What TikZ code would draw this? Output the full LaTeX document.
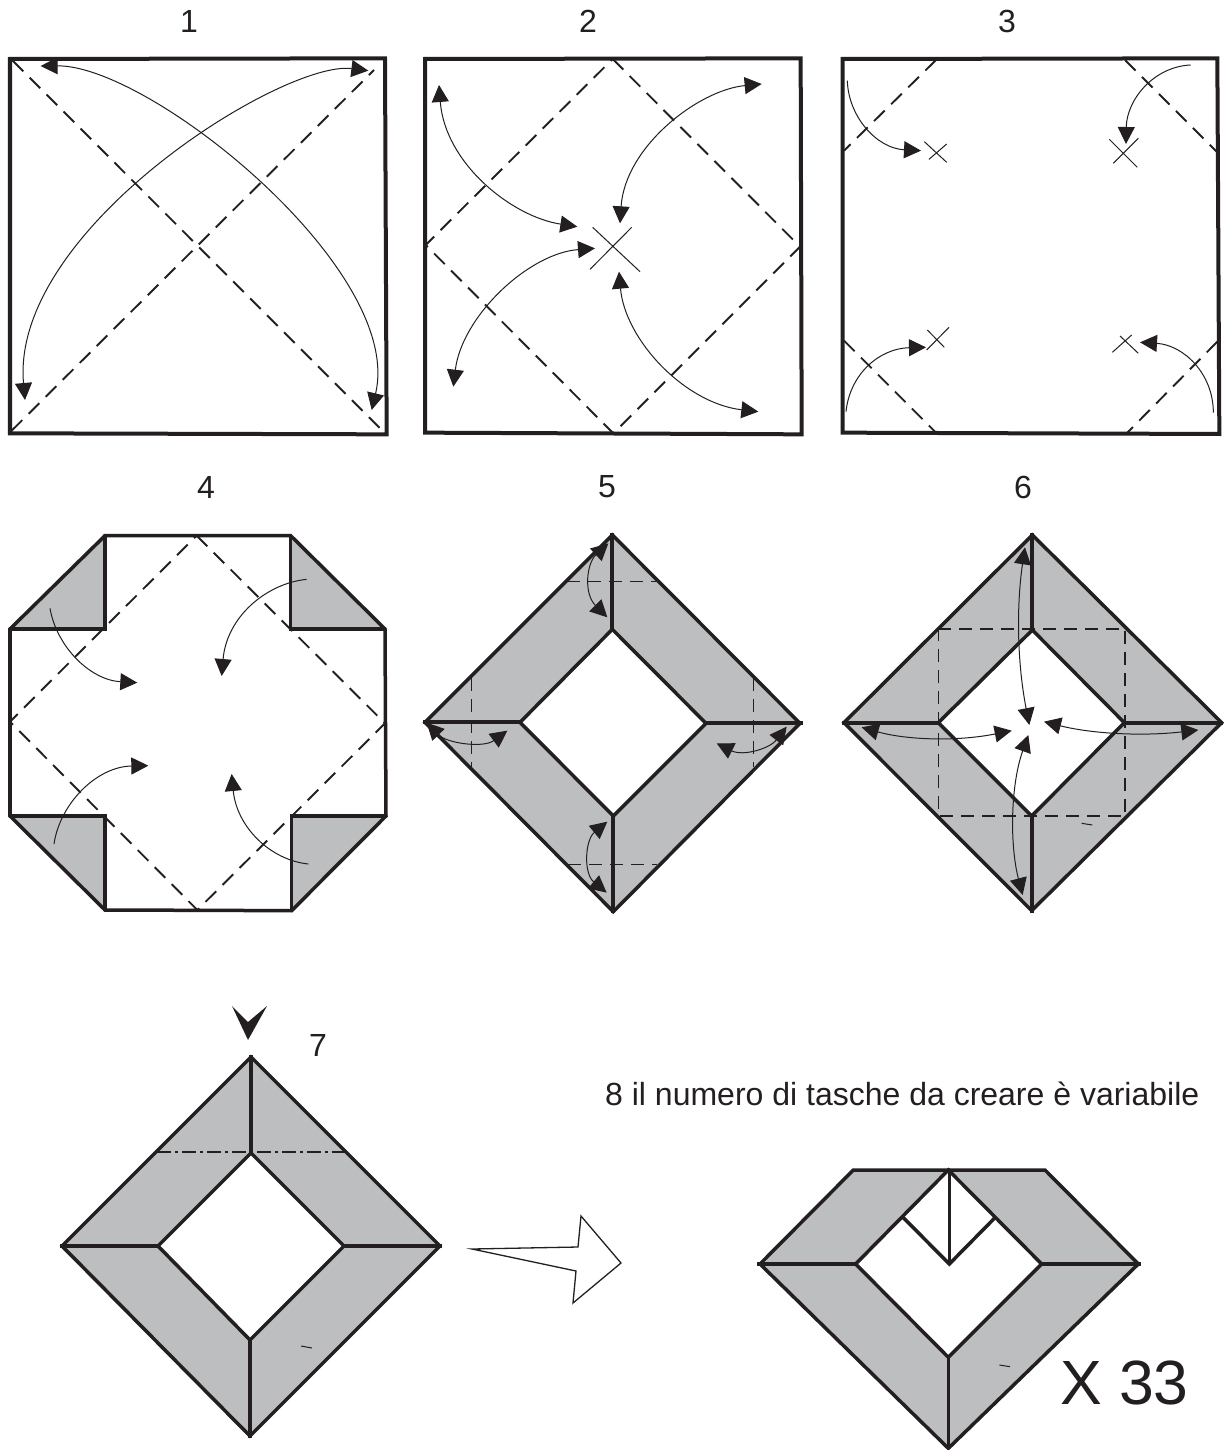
\documentclass[tikz,border=0pt]{standalone}
\usepackage{fontspec}
\setmainfont{Liberation Sans}
\usetikzlibrary{arrows.meta}
\definecolor{ink}{HTML}{231F20}
\definecolor{paper}{HTML}{BCBEC0}
\tikzset{
  x=1pt,y=-1pt,
  every path/.style={line join=miter},
  panel/.style={draw=ink,line width=4pt},
  crease/.style={draw=ink,line width=1.9pt,dash pattern=on 15pt off 9pt},
  creaseshort/.style={draw=ink,line width=1.6pt,dash pattern=on 13pt off 8pt},
  creasedot/.style={draw=ink,line width=1.5pt,dash pattern=on 14pt off 4pt on 3pt off 4pt},
  thinline/.style={draw=ink,line width=1pt},
  both/.style={draw=ink,line width=1pt,{Triangle[length=17pt,width=17pt,fill=ink]}-{Triangle[length=17pt,width=17pt,fill=ink]}},
  one/.style={draw=ink,line width=1pt,-{Triangle[length=17pt,width=17pt,fill=ink]}},
  edge/.style={draw=ink,line width=3.5pt,line cap=round},
  heavy/.style={draw=ink,line width=4.2pt},
  sheet/.style={fill=paper},
  hole/.style={fill=white},
  step label/.style={font=\fontsize{32}{36}\selectfont,text=ink,inner sep=0pt},
  big label/.style={font=\fontsize{62.5}{70}\selectfont,text=ink,inner sep=0pt},
  wedge/.style={draw=ink,line width=1pt}
}
\begin{document}
\begin{tikzpicture}
\useasboundingbox (0,0) rectangle (1223,1450);
\fill[white] (0,0) rectangle (1223,1450);
% labels
\node[step label] (n1) at (189,21) {1};
\node[step label] (n2) at (588,21) {2};
\node[step label] (n3) at (1007,21) {3};
\node[step label] (n4) at (206,487) {4};
\node[step label] (n5) at (607,487) {5};
\node[step label] (n6) at (1023,487) {6};
\node[step label] (n7) at (318,1045) {7};
\node[step label,anchor=west] (n8) at (605,1094) {8 il numero di tasche da creare è variabile};
\node[big label,anchor=west] (n33) at (1060,1383) {X 33};
% panel 1
\begin{scope}[shift={(0,40)},scale=1/3]
\draw[crease] (38,62) -- (1150,1175);
\draw[crease] (35,1172) -- (1122,90);
\draw[both] (122,78) .. controls (450,75) and (1215,690) .. (1115,1110);
\draw[both] (1105,92) .. controls (850,60) and (30,570) .. (75,1080);
\draw[panel] (30,57) -- (1155,55) -- (1160,1183) -- (30,1180) -- cycle;
\end{scope}
% panel 2
\begin{scope}[shift={(415,40)},scale=1/3]
\draw[crease] (593,57) -- (1155,620) -- (595,1180) -- (32,615) -- cycle;
\draw[thinline] (533,562) -- (675,695) (650,562) -- (525,688);
\draw[both] (72,135) .. controls (90,370) and (290,530) .. (487,560);
\draw[both] (1040,132) .. controls (850,150) and (630,320) .. (615,550);
\draw[both] (540,625) .. controls (340,640) and (140,830) .. (115,1040);
\draw[both] (612,695) .. controls (630,900) and (810,1090) .. (1030,1115);
\draw[panel] (30,57) -- (1157,55) -- (1160,1183) -- (30,1178) -- cycle;
\end{scope}
% panel 3
\begin{scope}[shift={(830,40)},scale=1/3]
\draw[crease] (318,60) -- (42,332);
\draw[crease] (885,60) -- (1160,335);
\draw[crease] (42,902) -- (318,1178);
\draw[crease] (1162,905) -- (890,1180);
\draw[thinline] (283,305) -- (350,367) (350,312) -- (297,358);
\draw[thinline] (838,298) -- (922,382) (925,295) -- (850,370);
\draw[thinline] (292,870) -- (343,922) (357,862) -- (290,930);
\draw[thinline] (870,888) -- (925,940) (905,885) -- (847,937);
\draw[one] (52,122) .. controls (55,230) and (140,325) .. (273,332);
\draw[one] (1082,75) .. controls (970,80) and (890,180) .. (888,312);
\draw[one] (48,1115) .. controls (60,1000) and (150,925) .. (288,922);
\draw[one] (1150,1118) .. controls (1150,1000) and (1060,915) .. (930,907);
\draw[panel] (38,57) -- (1162,55) -- (1168,1182) -- (38,1178) -- cycle;
\end{scope}
% panel 4
\begin{scope}[shift={(0,520)},scale=1/3]
\fill[sheet] (315,47) -- (30,327) -- (315,327) -- cycle;
\fill[sheet] (872,47) -- (1155,327) -- (872,327) -- cycle;
\fill[sheet] (30,888) -- (315,888) -- (315,1170) -- cycle;
\fill[sheet] (875,888) -- (1158,888) -- (875,1172) -- cycle;
\draw[crease] (590,47) -- (1155,610) -- (592,1170) -- (30,605) -- cycle;
\draw[edge] (315,47) -- (315,327) -- (30,327);
\draw[edge] (872,47) -- (872,327) -- (1155,327);
\draw[edge] (30,888) -- (315,888) -- (315,1170);
\draw[edge] (875,1172) -- (875,888) -- (1158,888);
\draw[edge] (315,47) -- (872,47) -- (1155,327) -- (1158,888) -- (875,1172) -- (315,1170) -- (30,888) -- (30,327) -- cycle;
\draw[one] (150,265) .. controls (170,380) and (270,480) .. (412,488);
\draw[one] (920,178) .. controls (800,190) and (680,290) .. (665,468);
\draw[one] (162,972) .. controls (180,850) and (290,740) .. (445,737);
\draw[one] (925,1032) .. controls (810,1020) and (710,920) .. (695,762);
\end{scope}
% panel 5
\begin{scope}[shift={(420,500)},scale=1/3]
\fill[sheet,even odd rule] (577,105) -- (1140,670) -- (580,1235) -- (15,667) -- cycle (577,388) -- (858,670) -- (580,948) -- (300,667) -- cycle;
\draw[creaseshort] (440,245) -- (710,245);
\draw[creaseshort] (445,1093) -- (712,1093);
\draw[creaseshort] (155,535) -- (155,800);
\draw[creaseshort] (1001,535) -- (1001,800);
\draw[edge] (577,105) -- (1140,670) -- (580,1235) -- (15,667) -- cycle;
\draw[edge] (577,388) -- (858,670) -- (580,948) -- (300,667) -- cycle;
\draw[heavy] (577,100) -- (577,388);
\draw[heavy] (10,667) -- (300,667);
\draw[heavy] (858,670) -- (1150,670);
\draw[heavy] (580,948) -- (580,1240);
\draw[both] (565,130) .. controls (500,190) and (490,280) .. (562,352);
\draw[both] (20,668) .. controls (80,730) and (190,745) .. (262,692);
\draw[both] (1100,680) .. controls (1050,745) and (970,770) .. (890,730);
\draw[both] (562,965) .. controls (495,1020) and (490,1120) .. (560,1178);
\end{scope}
% panel 6
\begin{scope}[shift={(840,520)},scale=1/3]
\fill[sheet,even odd rule] (577,45) -- (1145,608) -- (575,1172) -- (12,608) -- cycle (577,330) -- (853,608) -- (575,888) -- (295,608) -- cycle;
\draw[creaseshort] (295,327) -- (855,327) -- (855,888) -- (295,888) -- cycle;
\draw[edge] (577,45) -- (1145,608) -- (575,1172) -- (12,608) -- cycle;
\draw[edge] (577,330) -- (853,608) -- (575,888) -- (295,608) -- cycle;
\draw[heavy] (577,40) -- (577,330);
\draw[heavy] (7,608) -- (295,608);
\draw[heavy] (853,608) -- (1150,608);
\draw[heavy] (575,888) -- (575,1178);
\draw[both] (555,82) .. controls (530,250) and (530,420) .. (568,615);
\draw[both] (65,622) .. controls (200,660) and (350,665) .. (515,632);
\draw[both] (1075,630) .. controls (900,650) and (750,640) .. (612,605);
\draw[both] (565,645) .. controls (510,800) and (510,980) .. (548,1125);
\draw[wedge] (725,910) -- (757,915);
\end{scope}
% panel 7
\fill[sheet,even odd rule] (251,1057) -- (440,1246) -- (250,1436) -- (62,1246) -- cycle (251,1153) -- (344,1246) -- (250,1340) -- (158,1246) -- cycle;
\draw[creasedot] (157,1152) -- (345,1152);
\draw[edge] (251,1057) -- (440,1246) -- (250,1436) -- (62,1246) -- cycle;
\draw[edge] (251,1153) -- (344,1246) -- (250,1340) -- (158,1246) -- cycle;
\draw[heavy] (251,1055) -- (251,1153);
\draw[heavy] (60,1246) -- (158,1246);
\draw[heavy] (344,1246) -- (442,1246);
\draw[heavy] (250,1340) -- (250,1438);
\draw[wedge] (301,1346) -- (312,1348);
\fill[ink] (232,1006) -- (248,1022) -- (267,1006) -- (248,1040) -- cycle;
\draw[draw=ink,line width=1.3pt,fill=white] (472,1249) -- (578,1247) -- (581,1216) -- (621,1263) -- (573,1303) -- (576,1271) -- cycle;
% panel 8
\begin{scope}[shift={(740,1150)},scale=1/3]
\fill[sheet] (340,60) -- (915,60) -- (1195,342) -- (625,895) -- (60,342) -- cycle;
\fill[hole] (625,60) -- (905,342) -- (625,622) -- (347,342) -- cycle;
\draw[edge] (340,60) -- (915,60) -- (1195,342) -- (625,895) -- (60,342) -- cycle;
\draw[edge] (625,60) -- (905,342) -- (625,622) -- (347,342) -- cycle;
\draw[edge] (490,203) -- (628,342) -- (765,203);
\draw[edge] (628,60) -- (628,342);
\draw[edge] (625,622) -- (625,895);
\draw[heavy] (52,342) -- (347,342);
\draw[heavy] (905,342) -- (1203,342);
\draw[wedge] (778,645) -- (810,650);
\end{scope}
\end{tikzpicture}
\end{document}
